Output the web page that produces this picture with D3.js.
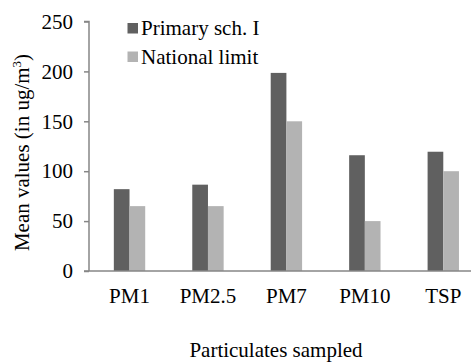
<!DOCTYPE html>
<html>
<head>
<meta charset="utf-8">
<script src="https://cdn.jsdelivr.net/npm/d3@7"></script>
<style>
  body { margin: 0; background: #fff; }
  svg text { font-family: "Liberation Serif", "Times New Roman", serif !important; fill: #000; }
</style>
</head>
<body>
<div id="chart"></div>
<script>
const categories = ["PM1", "PM2.5", "PM7", "PM10", "TSP"];
const seriesNames = ["Primary sch. I", "National limit"];
const primaryValues = [82, 86.5, 198.5, 116, 119.5];
const limitValues = [65, 65, 150, 50, 100];
const yTicks = [0, 50, 100, 150, 200, 250];

const w = 471;
const h = 362;
const colors = ["#606060", "#b3b3b3"];
const axisColor = "#868686";
const fontSize = 21;
const serif = "'Liberation Serif', 'Times New Roman', serif";

const svg = d3.select("#chart")
  .append("svg")
  .attr("width", w)
  .attr("height", h)
  .style("font-family", serif);

const x = d3.scaleBand()
  .domain(categories)
  .range([90.3, 482.5]);

const inner = d3.scaleBand()
  .domain(seriesNames)
  .range([0, x.bandwidth() * 0.4]);

const y = d3.scaleLinear()
  .domain([0, 250])
  .range([271, 21.5]);

const rows = categories.map((c, i) => ({
  cat: c,
  vals: [primaryValues[i], limitValues[i]]
}));

// bars
const groups = svg.selectAll("g.cat")
  .data(rows)
  .enter()
  .append("g")
  .attr("class", "cat")
  .attr("transform", (d) => `translate(${x(d.cat) + x.bandwidth() * 0.3},0)`);

groups.selectAll("rect")
  .data((d) => d.vals.map((v, j) => ({ v, s: seriesNames[j], j })))
  .enter()
  .append("rect")
  .attr("x", (d) => inner(d.s))
  .attr("y", (d) => y(d.v))
  .attr("width", inner.bandwidth())
  .attr("height", (d) => y(0) - y(d.v))
  .attr("fill", (d) => colors[d.j]);

// y axis
const yAxis = svg.append("g")
  .attr("transform", "translate(89,0)")
  .call(d3.axisLeft(y).tickValues(yTicks).tickSize(5).tickPadding(11))
  .attr("font-family", null)
  .attr("font-size", null);

yAxis.select(".domain").attr("stroke", axisColor).attr("stroke-width", 1.5)
  .attr("d", `M-5,${y(250)}H0V${y(0)}`);
yAxis.selectAll(".tick line").attr("stroke", axisColor).attr("stroke-width", 1.5);
yAxis.selectAll(".tick text")
  .style("font-family", serif)
  .attr("font-size", fontSize)
  .attr("fill", "#000");

// x axis line
svg.append("line")
  .attr("x1", 84)
  .attr("x2", w)
  .attr("y1", y(0))
  .attr("y2", y(0))
  .attr("stroke", axisColor)
  .attr("stroke-width", 1.5);

// x labels
svg.append("g")
  .selectAll("text")
  .data(categories)
  .enter()
  .append("text")
  .attr("x", (d) => x(d) + x.bandwidth() / 2)
  .attr("y", 303)
  .attr("text-anchor", "middle")
  .attr("font-size", fontSize)
  .text((d) => d);

// axis titles
svg.append("text")
  .attr("x", 276)
  .attr("y", 357)
  .attr("text-anchor", "middle")
  .attr("font-size", fontSize)
  .text("Particulates sampled");

const yTitle = svg.append("text")
  .attr("transform", "translate(28.5,152.5) rotate(-90)")
  .attr("text-anchor", "middle")
  .attr("font-size", fontSize);
yTitle.append("tspan").text("Mean values (in ug/m");
yTitle.append("tspan").attr("dy", -8).attr("font-size", 13).text("3");
yTitle.append("tspan").attr("dy", 8).text(")");

// legend
const legend = svg.append("g").attr("id", "legend");
const item = legend.selectAll("g")
  .data(seriesNames)
  .enter()
  .append("g")
  .attr("transform", (d, i) => `translate(127.5,${23 + i * 28.5})`);

item.append("rect")
  .attr("width", 10.5)
  .attr("height", 10.5)
  .attr("fill", (d, i) => colors[i]);

item.append("text")
  .attr("x", 13.5)
  .attr("y", 12)
  .attr("font-size", fontSize)
  .text((d) => d);
</script>
</body>
</html>
